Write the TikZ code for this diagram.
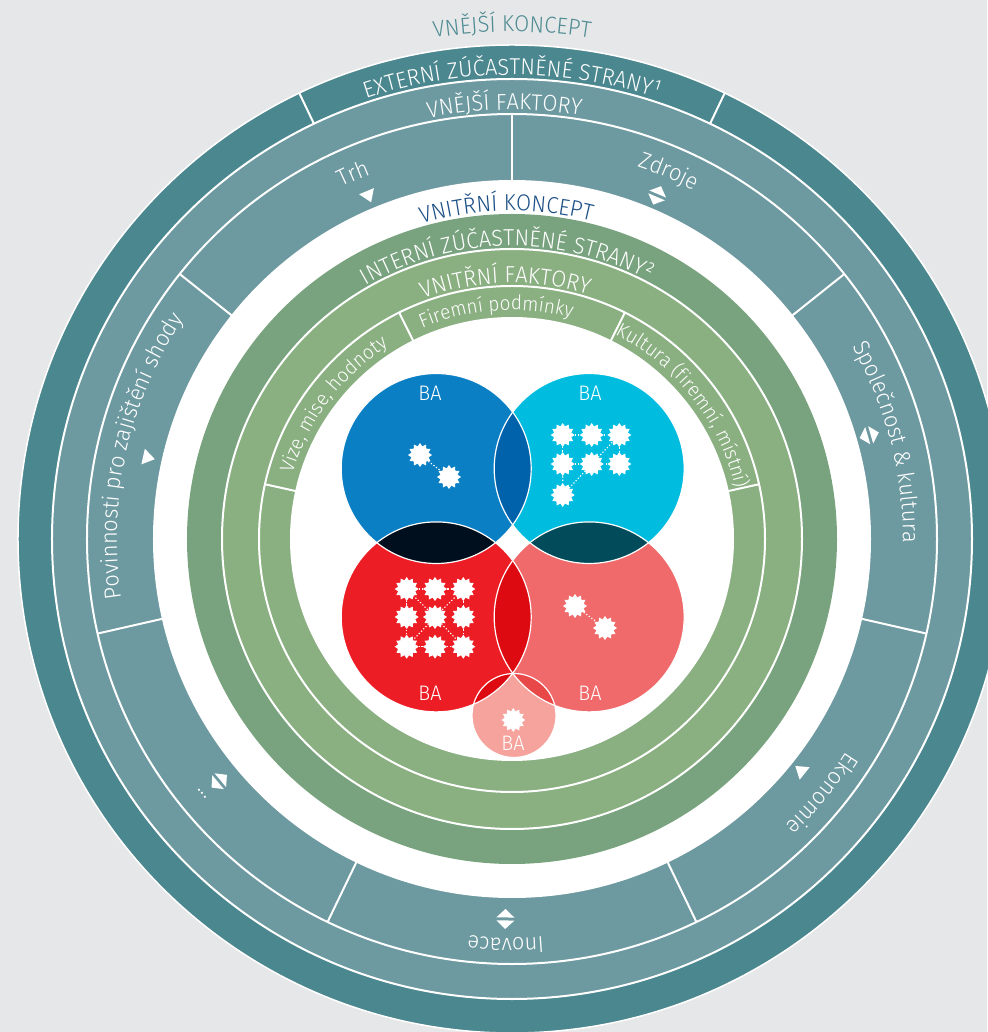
\documentclass[tikz,border=0pt]{standalone}
\usepackage{fontspec}
\setmainfont{Fira Sans Light}[FakeStretch=0.95]
\usetikzlibrary{shapes.geometric,decorations.text}

\definecolor{bggrey}{HTML}{E6E7E8}
\definecolor{tealdark}{HTML}{4B878F}
\definecolor{teallight}{HTML}{6D99A0}
\definecolor{greendark}{HTML}{79A37E}
\definecolor{greenlight}{HTML}{8AAF81}
\definecolor{titleteal}{HTML}{4F8C93}
\definecolor{titleblue}{HTML}{1B4F86}
\definecolor{bablue}{HTML}{0A7FC4}
\definecolor{bacyan}{HTML}{00BDE0}
\definecolor{bared}{HTML}{ED1D25}
\definecolor{bapink}{HTML}{F06A6B}
\definecolor{basmall}{HTML}{F5A39C}
\definecolor{lensblue}{HTML}{0062AA}
\definecolor{lensnavy}{HTML}{000F1D}
\definecolor{lensteal}{HTML}{024B5A}
\definecolor{lensred}{HTML}{DD0A11}
\definecolor{lenssalmon}{HTML}{E94848}

\newcommand\ringfont{\fontsize{23}{25}\selectfont}
\newcommand\segfont{\fontsize{23}{25}\selectfont}
\newcommand\subfont{\fontsize{20}{22}\selectfont}

% text set along an arc centred on angle #1, baseline radius #2
\newcommand\arclabel[5]{%
  \path[decorate, decoration={text along path, text align=center,
      text color=#4, text={|#3|#5}}]
    ({#1+70}:#2) arc[start angle={#1+70}, end angle={#1-70}, radius=#2pt];}
% white markers in the outer segments
\newcommand\markone[2]{\fill[white, shift={(#1:#2)}, rotate=#1] (4,-8) -- (4,8) -- (-8,0) -- cycle;}
\newcommand\marktwo[2]{\fill[white, shift={(#1:#2)}, rotate=#1]
  (-1.5,-9) -- (-1.5,9) -- (-10,0) -- cycle (1.5,-9) -- (1.5,9) -- (10,0) -- cycle;}

\begin{document}
\begin{tikzpicture}[x=1pt, y=1pt,
    sep/.style={draw=white, line width=2pt},
    burst/.style={star, star points=12, star point ratio=1.35, fill=white,
      minimum size=24pt, inner sep=0pt},
    link/.style={draw=white, dotted, line width=1.2pt},
    balabel/.style={text=white, font=\fontsize{21}{22}\selectfont}]

    \fill[bggrey] (-512,-493) rectangle (475,539);
    \useasboundingbox (-512,-493) rectangle (475,539);

    % outer concept
    \fill[tealdark] (0,0) circle[radius=494pt];
    \draw[white, line width=1.5pt] (0,0) circle[radius=494pt];
    \filldraw[sep, fill=teallight] (0,0) circle[radius=460pt];
    \draw[sep] (0,0) circle[radius=425pt];
    \fill[white] (0,0) circle[radius=359pt];
    \foreach \a in {64.5,115.5} \draw[sep] (\a:460) -- (\a:494);
    \foreach \k in {0,...,6} \draw[sep] ({90-\k*360/7}:358) -- ({90-\k*360/7}:425);

    % inner concept
    \fill[greendark] (0,0) circle[radius=325pt];
    \filldraw[sep, fill=greenlight] (0,0) circle[radius=290pt];
    \draw[sep] (0,0) circle[radius=253pt];
    \fill[white] (0,0) circle[radius=222pt];
    \foreach \a in {12.5,63.5,116.5,167.5} \draw[sep] (\a:221) -- (\a:253);

    % venn
    \coordinate (tl) at (-75.8,70.5);
    \coordinate (tr) at (77.2,70.5);
    \coordinate (bl) at (-75.8,-77.9);
    \coordinate (br) at (77.2,-77.9);
    \coordinate (sm) at (2,-176.5);
    \fill[bablue] (tl) circle[radius=95pt];
    \fill[bacyan] (tr) circle[radius=95pt];
    \fill[bared] (bl) circle[radius=95pt];
    \fill[bapink] (br) circle[radius=95pt];
    \begin{scope}
        \clip (tl) circle[radius=95pt];
        \fill[lensblue] (tr) circle[radius=95pt];
        \fill[lensnavy] (bl) circle[radius=95pt];
    \end{scope}
    \begin{scope}
        \clip (tr) circle[radius=95pt];
        \fill[lensteal] (br) circle[radius=95pt];
    \end{scope}
    \begin{scope}
        \clip (bl) circle[radius=95pt];
        \fill[lensred] (br) circle[radius=95pt];
    \end{scope}
    \fill[basmall] (sm) circle[radius=42pt];
    \begin{scope}
        \clip (sm) circle[radius=42pt];
        \fill[lensred] (bl) circle[radius=95pt];
        \fill[lenssalmon] (br) circle[radius=95pt];
    \end{scope}
    \foreach \c in {tl,tr,bl,br} \draw[white, line width=1.2pt] (\c) circle[radius=95pt];
    \draw[white, line width=1.2pt] (sm) circle[radius=42pt];

    \node[balabel] (batl) at (-82,146) {BA};
    \node[balabel] (batr) at (78,146) {BA};
    \node[balabel] (babl) at (-82,-154) {BA};
    \node[balabel] (babr) at (78,-154) {BA};
    \node[balabel] (basm) at (1,-204) {BA};

    % networks
    \node[burst] (tl1) at (-92,84) {};
    \node[burst] (tl2) at (-63,62) {};
    \draw[link] (tl1) -- (tl2);
    \foreach \i/\y in {1/104,2/75} \foreach \j/\x in {1/50.7,2/79.7,3/107.3}
        \node[burst] (tr\i\j) at (\x,\y) {};
    \node[burst] (tr31) at (50.7,44) {};
    \draw[link] (tr11) -- (tr12) -- (tr13) -- (tr23) -- (tr22) -- (tr21) -- (tr11);
    \draw[link] (tr21) -- (tr31) -- (tr22) -- (tr13);
    \foreach \i/\y in {1/-50,2/-78,3/-107.7} \foreach \j/\x in {1/-105.3,2/-77,3/-48.7}
        \node[burst] (bl\i\j) at (\x,\y) {};
    \draw[link] (bl11) -- (bl12) -- (bl13) -- (bl23) -- (bl33) -- (bl32) -- (bl31) -- (bl21) -- (bl11);
    \draw[link] (bl11) -- (bl22) -- (bl33) (bl13) -- (bl22) -- (bl31);
    \node[burst] (br1) at (63,-67) {};
    \node[burst] (br2) at (93,-89) {};
    \draw[link] (br1) -- (br2);
    \node[burst] (sm1) at (1.3,-181) {};

    % ring titles
    \arclabel{90}{507}{\ringfont}{titleteal}{VNĚJŠÍ KONCEPT}
    \arclabel{90}{464}{\ringfont}{white}{EXTERNÍ ZÚČASTNĚNÉ STRANY¹}
    \arclabel{91}{429}{\ringfont}{white}{VNĚJŠÍ FAKTORY}
    \arclabel{91}{328}{\ringfont}{titleblue}{VNITŘNÍ KONCEPT}
    \arclabel{91}{293}{\ringfont}{white}{INTERNÍ ZÚČASTNĚNÉ STRANY²}
    \arclabel{91.5}{256}{\ringfont}{white}{VNITŘNÍ FAKTORY}
    \arclabel{94}{229}{\subfont}{white}{Firemní podmínky}
    \arclabel{143}{229}{\subfont}{white}{Vize, mise, hodnoty}
    \arclabel{38}{229}{\subfont}{white}{Kultura (firemní, místní)}

    % outer segments
    \arclabel{113.5}{391}{\segfont}{white}{Trh}
    \arclabel{66.9}{393}{\segfont}{white}{Zdroje}
    \arclabel{14.5}{391}{\segfont}{white}{Společnost {\&} kultura}
    \arclabel{-39.4}{396}{\segfont}{white}{Ekonomie}
    \arclabel{-90.9}{399}{\segfont}{white}{Inovace}
    \arclabel{-140.6}{400}{\segfont}{white}{...}
    \arclabel{167.4}{395}{\segfont}{white}{Povinnosti pro zajištění shody}

    \markone{112.7}{373}
    \marktwo{67.1}{373}
    \marktwo{16.2}{372}
    \markone{-38.7}{371}
    \marktwo{-91}{380}
    \marktwo{-140.4}{380}
    \markone{167.4}{374}
\end{tikzpicture}
\end{document}
